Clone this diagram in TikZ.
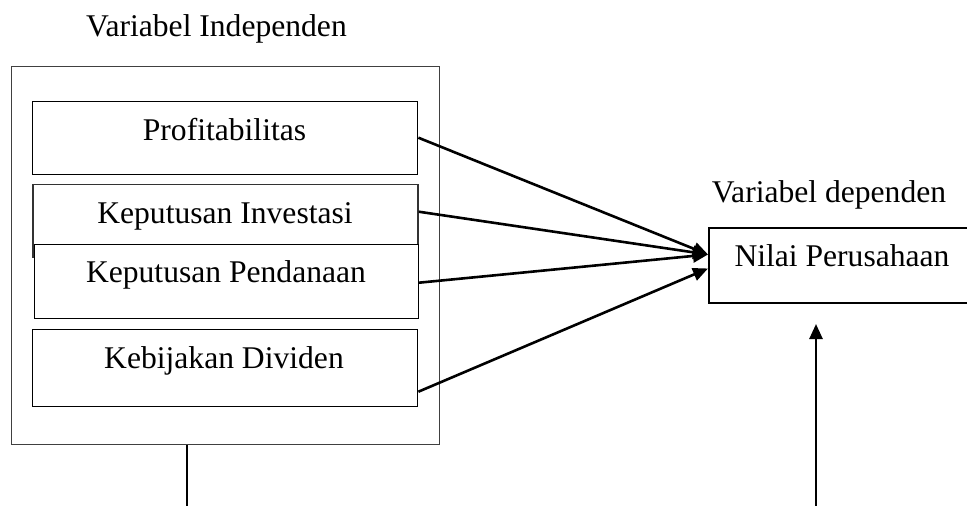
\documentclass[tikz,border=0pt]{standalone}
\usepackage{fontspec}
\setmainfont{Liberation Serif}
\usetikzlibrary{arrows.meta}
\begin{document}
\begin{tikzpicture}[x=1pt,y=-1pt,
  boxst/.style={draw=black, line width=1.4pt, fill=white, inner sep=0pt, anchor=north west},
  outerst/.style={draw=black!75, line width=1.2pt, inner sep=0pt, anchor=north west},
  txt/.style={anchor=base, inner sep=0pt, font=\fontsize{31.6}{38}\selectfont},
  arr/.style={line width=2.6pt, -{Triangle[length=15pt, width=13pt]}},
  plain/.style={line width=2.6pt}
]
\useasboundingbox[fill=white] (0,0) rectangle (967,506);

% outer box
\node[outerst, minimum width=428pt, minimum height=378pt] (outer) at (10.7,66) {};

% inner boxes
\node[boxst, minimum width=385pt, minimum height=73pt] (p) at (32,101) {};
\node[boxst, draw=black!80, minimum width=385pt, minimum height=73pt] (i) at (32.3,184) {};
\node[boxst, minimum width=384pt, minimum height=74pt] (d) at (33.5,244) {};
\node[boxst, minimum width=385pt, minimum height=77pt] (k) at (32,329) {};

% dependent box
\node[boxst, line width=2pt, minimum width=264pt, minimum height=75pt] (n) at (708,227) {};

% texts
\node[txt] (tp) at (224.5,140) {Profitabilitas};
\node[txt] (ti) at (225,223) {Keputusan Investasi};
\node[txt] (td) at (226,282) {Keputusan Pendanaan};
\node[txt] (tk) at (224,368) {Kebijakan Dividen};
\node[txt] (tn) at (842,266) {Nilai Perusahaan};
\node[txt] (vi) at (216.5,36) {Variabel Independen};
\node[txt] (vd) at (829,202) {Variabel dependen};

% connectors
\draw[arr] ([yshift=0.5pt]p.east) -- ([yshift=11pt]n.west);
\draw[arr] ([yshift=9.5pt]i.east) -- ([yshift=11pt]n.west);
\draw[arr] ([yshift=-1pt]d.east) -- ([yshift=11pt]n.west);
\draw[arr] ([yshift=-23.5pt]k.east) -- ([yshift=-3pt]n.west);

% bottom lines
\coordinate (lb) at (187,506);
\draw[plain] (outer.south -| lb) -- (lb);
\coordinate (rb) at (816,506);
\coordinate (rt) at (816,324);
\draw[arr] (rb) -- (rt);
\end{tikzpicture}
\end{document}
